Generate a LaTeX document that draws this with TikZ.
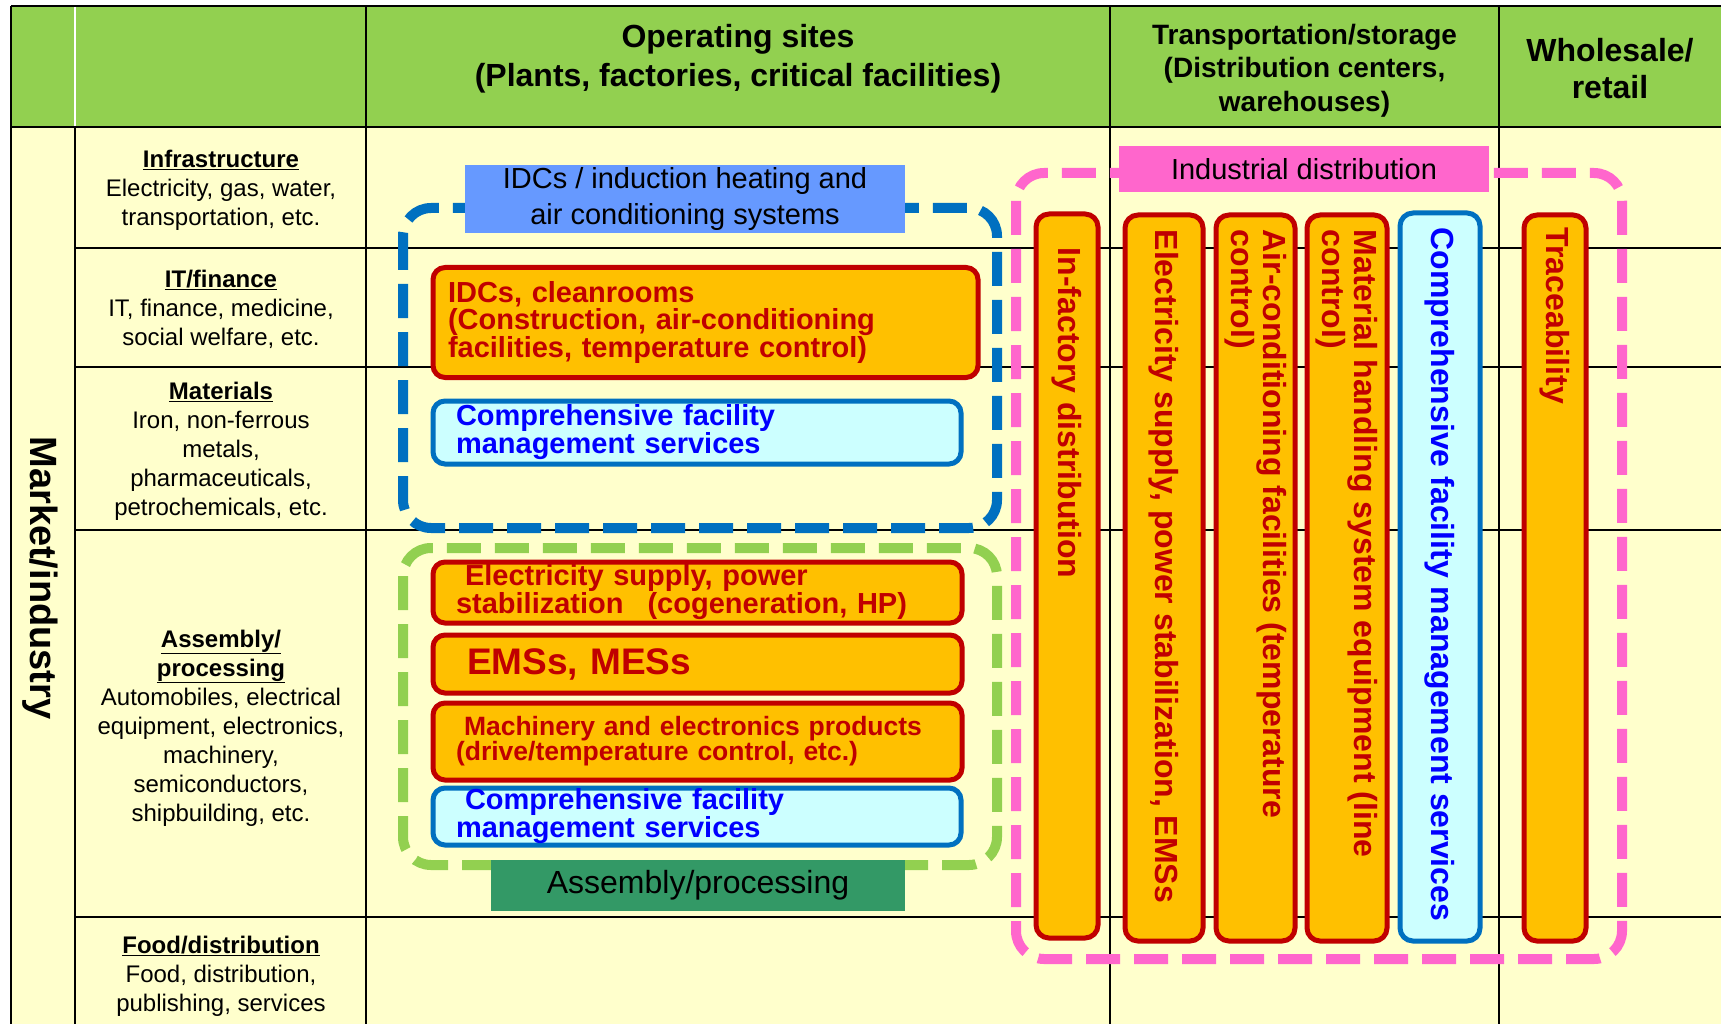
\documentclass[tikz,border=0pt]{standalone}
\usepackage{fontspec}
\setmainfont{Liberation Sans}
\usepackage{tikz}
\usetikzlibrary{positioning}
\definecolor{hdrgreen}{HTML}{92D050}
\definecolor{cellyellow}{HTML}{FFFFCC}
\definecolor{boxorange}{HTML}{FFC000}
\definecolor{boxred}{HTML}{C00000}
\definecolor{svcblue}{HTML}{0070C0}
\definecolor{svccyan}{HTML}{CCFFFF}
\definecolor{txtblue}{HTML}{0000FF}
\definecolor{idclabel}{HTML}{6699FF}
\definecolor{distpink}{HTML}{FF66CC}
\definecolor{asmgreen}{HTML}{339966}

\begin{document}
\begin{tikzpicture}[x=1pt,y=-1pt]
			\tikzstyle{every node}+=[inner sep=0pt]
			\tikzstyle{tabline}=[black, line width=2.5pt]
			\tikzstyle{hdr}=[font=\fontsize{32}{39}\selectfont\bfseries, align=center]
			\tikzstyle{cat}=[font=\fontsize{24}{29}\selectfont, align=center]
			\tikzstyle{facbox}=[draw=boxred, fill=boxorange, line width=5pt, rounded corners=12pt, text=boxred, font=\fontsize{29}{27}\selectfont\bfseries, align=left]
			\tikzstyle{svcbox}=[facbox, draw=svcblue, fill=svccyan, text=txtblue]
			\tikzstyle{vbar}=[draw=boxred, fill=boxorange, line width=5pt, rounded corners=13pt]
			\tikzstyle{vsvc}=[vbar, draw=svcblue, fill=svccyan]
			\tikzstyle{vtext}=[rotate=-90, anchor=west, align=left, text=boxred, font=\fontsize{32}{32}\selectfont\bfseries]
			\tikzstyle{zone}=[line width=10pt, dash pattern=on 34pt off 14pt, rounded corners=28pt]
			\tikzstyle{zonelabel}=[font=\fontsize{29}{36}\selectfont, align=center]
			\useasboundingbox (0,0) rectangle (1721,1024);
			\fill [white] (0,0) rectangle (1721,1024);
			\fill [cellyellow] (11,127) rectangle (1721,1024);
			\fill [hdrgreen] (11,6) rectangle (1721,127);
			\draw [tabline] (11,6) -- (1721,6);
			\draw [tabline] (11,6) -- (11,1024);
			\draw [tabline] (11,127) -- (1721,127);
			\draw [white, line width=2pt] (75,7) -- (75,126);
			\draw [tabline] (75,127) -- (75,1024);
			\foreach \x in {366,1110,1499}
				\draw [tabline] (\x,6) -- (\x,1024);
			\foreach \y in {248,367,530,917}
				\draw [tabline] (75,\y) -- (1721,\y);
			\node [hdr] (opsites) at (738,58.5) {Operating sites\\(Plants, factories, critical facilities)};
			\node [hdr, font=\fontsize{28}{33.5}\selectfont\bfseries] (transport) at (1304.5,70.5) {Transportation/storage\\(Distribution centers,\\warehouses)};
			\node [hdr, font=\fontsize{32}{37}\selectfont\bfseries] (wholesale) at (1610,68.5) {Wholesale/\\retail};
			\node [rotate=-90, font=\fontsize{38}{40}\selectfont\bfseries] (market) at (40,578) {Market/industry};
			\node [cat] (infra) at (221,190.5) {\textbf{\underline{Infrastructure}}\\Electricity, gas, water,\\transportation, etc.};
			\node [cat] (itfin) at (221,309.5) {\textbf{\underline{IT/finance}}\\IT, finance, medicine,\\social welfare, etc.};
			\node [cat] (mater) at (221,451.5) {\textbf{\underline{Materials}}\\Iron, non-ferrous\\metals,\\pharmaceuticals,\\petrochemicals, etc.};
			\node [cat] (assem) at (221,728) {\textbf{\underline{Assembly/}}\\\textbf{\underline{processing}}\\Automobiles, electrical\\equipment, electronics,\\machinery,\\semiconductors,\\shipbuilding, etc.};
			\node [cat] (food) at (221,976.5) {\textbf{\underline{Food/distribution}}\\Food, distribution,\\publishing, services};
			\draw [zone, svcblue] (403,208) rectangle (997,528);
			\draw [zone, hdrgreen] (403,548) rectangle (997,865);
			\draw [zone, distpink] (1016,173) rectangle (1622,959);
			\node [zonelabel, fill=idclabel, minimum width=440pt, minimum height=68pt] (idclbl) at (685,199) {IDCs / induction heating and\\air conditioning systems};
			\node [zonelabel, fill=distpink, minimum width=370pt, minimum height=46pt] (distlbl) at (1304,169) {Industrial distribution};
			\node [zonelabel, fill=asmgreen, minimum width=414pt, minimum height=51pt, font=\fontsize{32}{36}\selectfont] (asmlbl) at (698,885.5) {Assembly/processing};
			\node [facbox, minimum width=545pt, minimum height=110pt, text width=515pt, inner xsep=15pt] (idcbox) at (705.5,322.5) {IDCs, cleanrooms\\(Construction, air-conditioning\\facilities, temperature control)};
			\node [svcbox, minimum width=528pt, minimum height=63pt, text width=482pt, inner xsep=23pt, font=\fontsize{29}{26}\selectfont\bfseries] (fms1) at (697,432.5) {Comprehensive facility\\management services};
			\node [facbox, minimum width=529pt, minimum height=61pt, text width=483pt, inner xsep=23pt, font=\fontsize{29}{26}\selectfont\bfseries] (powerbox) at (697.5,592.5) {\hspace*{9pt}Electricity supply, power\\stabilization\hspace{24pt}(cogeneration, HP)};
			\node [facbox, minimum width=529pt, minimum height=58pt, text width=461pt, inner xsep=34pt, font=\fontsize{37}{40}\selectfont\bfseries] (emsbox) at (697.5,664) {EMSs, MESs};
			\node [facbox, minimum width=529pt, minimum height=77pt, text width=483pt, inner xsep=23pt, font=\fontsize{26.5}{25}\selectfont\bfseries] (machbox) at (697.5,741.5) {\hspace*{8pt}Machinery and electronics products\\(drive/temperature control, etc.)};
			\node [svcbox, minimum width=528pt, minimum height=57pt, text width=482pt, inner xsep=23pt, font=\fontsize{29}{28}\selectfont\bfseries] (fms2) at (697,816.5) {\hspace*{9pt}Comprehensive facility\\management services};
			\node [vbar, minimum width=62pt, minimum height=724pt] (infac) at (1067,576) {};
			\node [vbar, minimum width=78pt, minimum height=726pt] (elecbar) at (1164,578) {};
			\node [vbar, minimum width=79pt, minimum height=726pt] (airbar) at (1255.5,578) {};
			\node [vbar, minimum width=80pt, minimum height=726pt] (mhbar) at (1347,578) {};
			\node [vsvc, minimum width=80pt, minimum height=728pt] (fmsbar) at (1440,577) {};
			\node [vbar, minimum width=62pt, minimum height=726pt] (tracebar) at (1555,578) {};
			\node [vtext] (infactxt) at ([yshift=-36pt]infac.north) {In-factory distribution};
			\node [vtext] (electxt) at ([yshift=-17pt]elecbar.north) {Electricity supply, power stabilization, EMSs};
			\node [vtext] (airtxt) at ([yshift=-17pt]airbar.north) {Air-conditioning facilities (temperature\\control)};
			\node [vtext] (mhtxt) at ([yshift=-17pt]mhbar.north) {Material handling system equipment (line\\control)};
			\node [vtext, text=txtblue] (fmstxt) at ([yshift=-17pt]fmsbar.north) {Comprehensive facility management services};
			\node [vtext] (tracetxt) at ([yshift=-15pt]tracebar.north) {Traceability};
\end{tikzpicture}
\end{document}
